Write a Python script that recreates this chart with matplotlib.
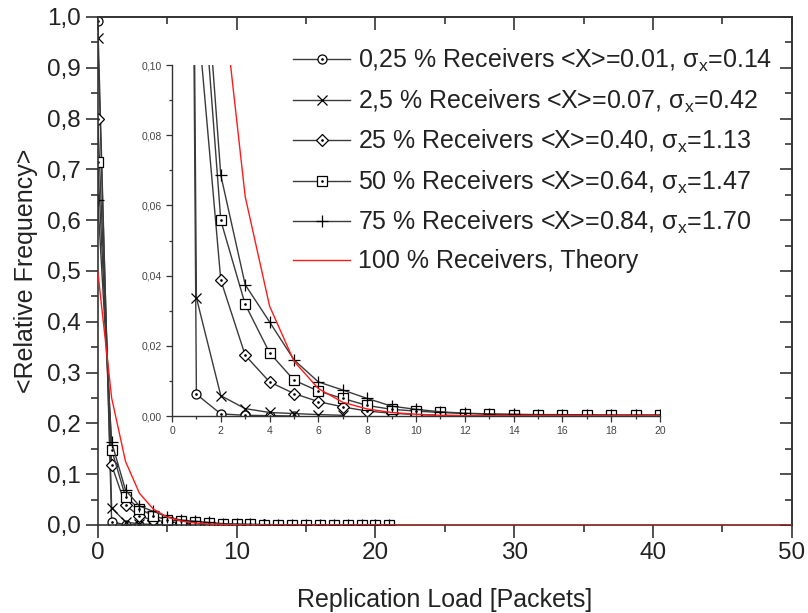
import matplotlib
matplotlib.use("Agg")
import matplotlib.pyplot as plt
from matplotlib.ticker import MultipleLocator, FuncFormatter

plt.rcParams['font.family'] = ['Liberation Sans', 'DejaVu Sans']
plt.rcParams['mathtext.default'] = 'regular'

# values (x = replication load in packets)
x_025 = [0, 1, 2, 3, 4, 5]
y_025 = [0.993, 0.0062, 0.0006, 0.0002, 0.0001, 0.0]
x_2_5 = [0, 1, 2, 3, 4, 5, 6, 7]
y_2_5 = [0.958, 0.0337, 0.0058, 0.0021, 0.0010, 0.0007, 0.0004, 0.0002]
x_25 = list(range(13))
y_25 = [0.800, 0.118, 0.0387, 0.0173, 0.0097, 0.0064, 0.0041, 0.0026,
        0.0014, 0.0008, 0.0004, 0.0002, 0.0001]
x_50 = list(range(22))
y_50 = [0.715, 0.148, 0.0557, 0.0318, 0.0180, 0.0102, 0.0071, 0.0050,
        0.0030, 0.0019, 0.0014, 0.0010, 0.0007, 0.0005, 0.0004, 0.0003,
        0.0003, 0.0003, 0.0002, 0.0002, 0.0002, 0.0002]
x_75 = list(range(22))
y_75 = [0.640, 0.163, 0.0686, 0.0374, 0.0268, 0.0160, 0.0097, 0.0074,
        0.0050, 0.0028, 0.0019, 0.0012, 0.0008, 0.0006, 0.0005, 0.0004,
        0.0004, 0.0003, 0.0003, 0.0003, 0.0003, 0.0002]
x_theory = [0, 1, 2, 3, 4, 5, 6, 7, 8, 9, 10, 11, 12, 50]
y_theory = [0.5, 0.25, 0.125, 0.0625, 0.0313, 0.0156, 0.0078, 0.0039,
            0.0020, 0.0010, 0.0005, 0.0002, 0.0001, 0.0]

labels = ["0,25 % Receivers <X>=0.01, σ$_x$=0.14",
          "2,5 % Receivers <X>=0.07, σ$_x$=0.42",
          "25 % Receivers <X>=0.40, σ$_x$=1.13",
          "50 % Receivers <X>=0.64, σ$_x$=1.47",
          "75 % Receivers <X>=0.84, σ$_x$=1.70",
          "100 % Receivers, Theory"]

series = [(x_025, y_025, 'o', 6.5, True),
          (x_2_5, y_2_5, 'x', 7.5, False),
          (x_25, y_25, 'D', 6.0, True),
          (x_50, y_50, 's', 7.0, True),
          (x_75, y_75, '+', 9.0, False)]

line_col = '#3a3a3a'
text_col = '#222222'


def draw_series(a, lw=1.0):
    handles = []
    for xs, ys, m, ms, dot in series:
        ln, = a.plot(xs, ys, color=line_col, lw=lw, marker=m, ms=ms,
                     mfc='white', mec='black', mew=0.9)
        h = ln
        if dot:
            d, = a.plot(xs, ys, ls='none', marker='.', ms=1.8, color='black')
            h = (ln, d)
        handles.append(h)
    red, = a.plot(x_theory, y_theory, color='#ff1a1a', lw=1.0, zorder=3)
    handles.append(red)
    return handles


fig = plt.figure(figsize=(8.08, 6.13), dpi=100)
ax = fig.add_axes([0.121, 0.1436, 0.859, 0.8287])
handles = draw_series(ax)

ax.set_xlim(0, 50)
ax.set_ylim(0, 1.0)
ax.xaxis.set_major_locator(MultipleLocator(10))
ax.xaxis.set_minor_locator(MultipleLocator(5))
ax.yaxis.set_major_locator(MultipleLocator(0.1))
ax.yaxis.set_minor_locator(MultipleLocator(0.05))
ax.yaxis.set_major_formatter(FuncFormatter(lambda v, p: f"{v:.1f}".replace('.', ',')))
ax.tick_params(which='both', direction='out', colors='#333333', width=1.2,
               labelsize=17.5, labelcolor=text_col)
ax.tick_params(which='major', length=9)
ax.tick_params(which='minor', length=5)
for s in ax.spines.values():
    s.set_color('#333333')
    s.set_linewidth(1.2)

# mirrored axes with inward ticks
top = ax.secondary_xaxis('top')
top.xaxis.set_major_locator(MultipleLocator(10))
top.xaxis.set_minor_locator(MultipleLocator(5))
top.tick_params(which='both', direction='in', labeltop=False, colors='#333333', width=1.2)
top.tick_params(which='major', length=9)
top.tick_params(which='minor', length=5)
right = ax.secondary_yaxis('right')
right.yaxis.set_major_locator(MultipleLocator(0.1))
right.yaxis.set_minor_locator(MultipleLocator(0.05))
right.tick_params(which='both', direction='in', labelright=False, colors='#333333', width=1.2)
right.tick_params(which='major', length=9)
right.tick_params(which='minor', length=5)
for sec in (top, right):
    for s in sec.spines.values():
        s.set_color('#333333')
        s.set_linewidth(1.2)

ax.set_xlabel("Replication Load [Packets]", fontsize=18, color=text_col, labelpad=17)
ax.set_ylabel("<Relative Frequency>", fontsize=18, color=text_col, labelpad=6)

ax.legend(handles, labels, loc='upper left', bbox_to_anchor=(293 / 808, 1 - 47 / 613),
          bbox_transform=fig.transFigure, frameon=False, fontsize=18,
          handlelength=2.28, handletextpad=0.32, labelspacing=0.53,
          borderpad=0, borderaxespad=0, numpoints=1, labelcolor=text_col)

# inset
ins = fig.add_axes([172 / 808, 1 - 416 / 613, 488 / 808, 351 / 613])
ins.set_facecolor('none')
draw_series(ins)
ins.set_xlim(0, 20)
ins.set_ylim(0, 0.10)
ins.xaxis.set_major_locator(MultipleLocator(2))
ins.xaxis.set_minor_locator(MultipleLocator(1))
ins.yaxis.set_major_locator(MultipleLocator(0.02))
ins.yaxis.set_minor_locator(MultipleLocator(0.01))
ins.yaxis.set_major_formatter(FuncFormatter(lambda v, p: f"{v:.2f}".replace('.', ',')))
ins.spines['top'].set_visible(False)
ins.spines['right'].set_visible(False)
for s in ('left', 'bottom'):
    ins.spines[s].set_color('#333333')
    ins.spines[s].set_linewidth(1.0)
ins.tick_params(which='both', direction='out', colors='#333333', width=0.9,
                labelsize=7.5, labelcolor='#444444')
ins.tick_params(which='major', length=4)
ins.tick_params(which='minor', length=2.5)

fig.savefig("out.png", dpi=100)
